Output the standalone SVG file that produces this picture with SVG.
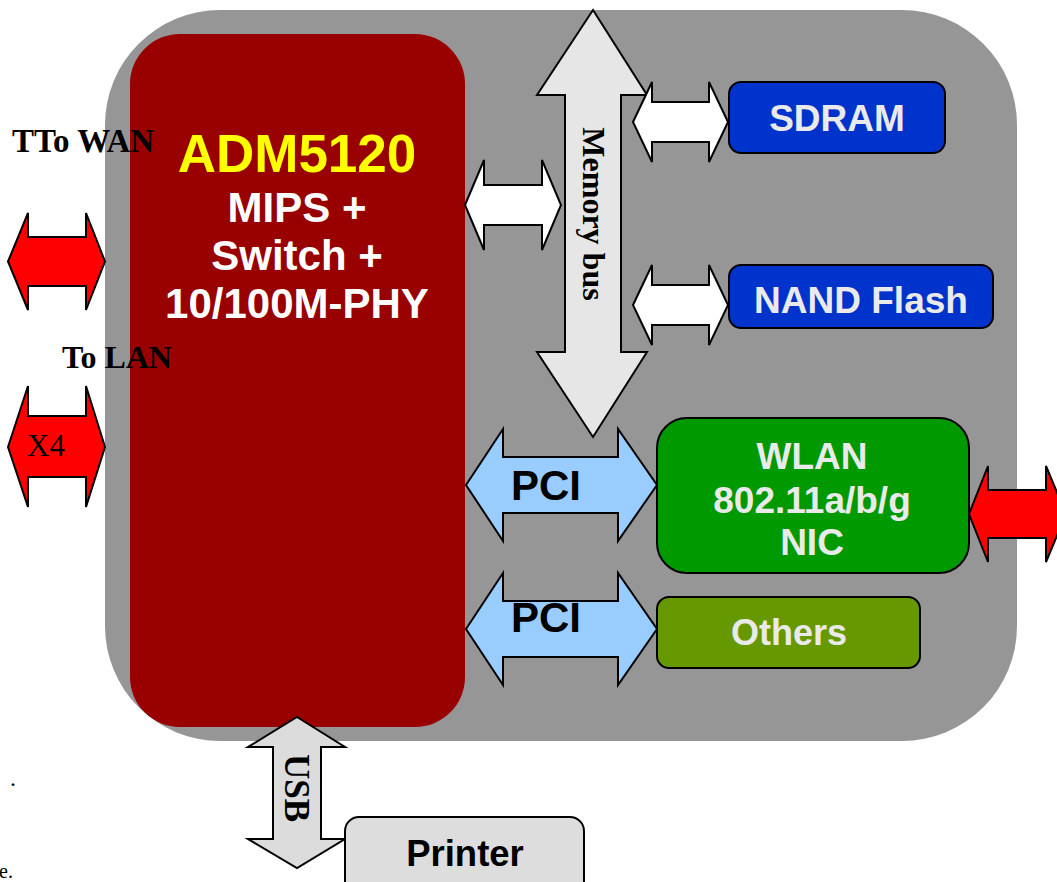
<svg xmlns="http://www.w3.org/2000/svg" width="1057" height="882" viewBox="0 0 1057 882">
<style>
.arr{stroke:#000;stroke-width:2;stroke-linejoin:miter}
.red{fill:#ff0000}
.wht{fill:#ffffff}
.pci{fill:#99ccff}
.bus{fill:#e6e6e6}
.usb{fill:#dcdcdc}
.box{stroke:#000;stroke-width:2}
.sans{font-family:"Liberation Sans",Arial,sans-serif;font-weight:bold;text-anchor:middle}
.serif{font-family:"Liberation Serif","Times New Roman",serif;font-weight:bold}
.lt{fill:#eaeaea}
</style>
<rect width="1057" height="882" fill="#ffffff"/>
<g id="board"><rect x="105" y="10" width="912" height="731" rx="115" ry="115" fill="#969696"/></g>
<g id="cpu">
<rect x="130" y="34" width="335" height="693" rx="50" ry="50" fill="#990000"/>
<text class="sans" x="297" y="172" font-size="53" fill="#ffff00">ADM5120</text>
<text class="sans" x="297" y="222" font-size="42" fill="#ffffff">MIPS +</text>
<text class="sans" x="297" y="270" font-size="42" fill="#ffffff">Switch +</text>
<text class="sans" x="297" y="318" font-size="42" fill="#ffffff">10/100M-PHY</text>
</g>
<g id="connectors">
<path class="arr red" d="M8 261.5 L28 213 L28 237 L86 237 L86 213 L105 261.5 L86 310 L86 286 L28 286 L28 310 Z"/>
<path class="arr red" d="M8 447 L28 386 L28 416 L86 416 L86 386 L105 447 L86 507 L86 477 L28 477 L28 507 Z"/>
<text x="27" y="456" font-family="Liberation Serif,Times New Roman,serif" font-size="31" fill="#000">X4</text>
<path class="arr bus" d="M593 10 L647 95 L621 95 L621 352 L647 352 L593 437 L537 352 L565 352 L565 95 L537 95 Z"/>
<text class="serif" transform="translate(583 214) rotate(90)" font-size="32" text-anchor="middle" fill="#000">Memory bus</text>
<path class="arr wht" d="M465 205 L484 160 L484 185 L542 185 L542 160 L561 205 L542 250 L542 225 L484 225 L484 250 Z"/>
<path class="arr wht" d="M633 122 L652 82 L652 102 L709 102 L709 82 L728 122 L709 162 L709 142 L652 142 L652 162 Z"/>
<path class="arr wht" d="M633 305 L652 265 L652 285 L709 285 L709 265 L728 305 L709 345 L709 325 L652 325 L652 345 Z"/>
<path class="arr pci" d="M466 485 L503 429 L503 457 L618 457 L618 429 L657 485 L618 541 L618 513 L503 513 L503 541 Z"/>
<text class="sans" x="546" y="500" font-size="42" fill="#000">PCI</text>
<path class="arr pci" d="M466 629 L503 573 L503 601 L618 601 L618 573 L657 629 L618 685 L618 657 L503 657 L503 685 Z"/>
<text class="sans" x="546" y="632" font-size="42" fill="#000">PCI</text>
<path class="arr red" d="M969 514 L988 466 L988 490 L1046 490 L1046 466 L1066 514 L1046 562 L1046 538 L988 538 L988 562 Z"/>
<path class="arr usb" d="M297 717 L345 747 L321 747 L321 839 L345 839 L297 868 L248 839 L273 839 L273 747 L248 747 Z"/>
<text class="serif" transform="translate(285 788) rotate(90)" font-size="35" text-anchor="middle" fill="#000">USB</text>
</g>
<g id="sdram"><rect class="box" x="729" y="82" width="216" height="71" rx="12" fill="#0033cc"/><text class="sans lt" x="837" y="131" font-size="37">SDRAM</text></g>
<g id="nand"><rect class="box" x="729" y="265" width="264" height="63" rx="12" fill="#0033cc"/><text class="sans lt" x="861" y="313" font-size="37">NAND Flash</text></g>
<g id="wlan"><rect class="box" x="657" y="418" width="312" height="155" rx="30" fill="#009900"/>
<text class="sans lt" x="812" y="469" font-size="37">WLAN</text>
<text class="sans lt" x="812" y="513" font-size="37">802.11a/b/g</text>
<text class="sans lt" x="812" y="555" font-size="37">NIC</text></g>
<g id="others"><rect class="box" x="657" y="597" width="263" height="71" rx="12" fill="#669900"/><text class="sans lt" x="789" y="645" font-size="36">Others</text></g>
<g id="printer"><rect class="box" x="345" y="817" width="239" height="80" rx="14" fill="#dddddd"/><text class="sans" x="465" y="866" font-size="36.5" fill="#000">Printer</text></g>
<g id="labels">
<text class="serif" x="12" y="152" font-size="33" fill="#000">TTo WAN</text>
<text class="serif" x="62" y="368" font-size="32" fill="#000">To LAN</text>
<text x="10" y="786" font-family="Liberation Serif,serif" font-size="24" fill="#000">.</text>
<text x="-1" y="878" font-family="Liberation Serif,serif" font-size="20" fill="#000">e.</text>
</g>
</svg>
